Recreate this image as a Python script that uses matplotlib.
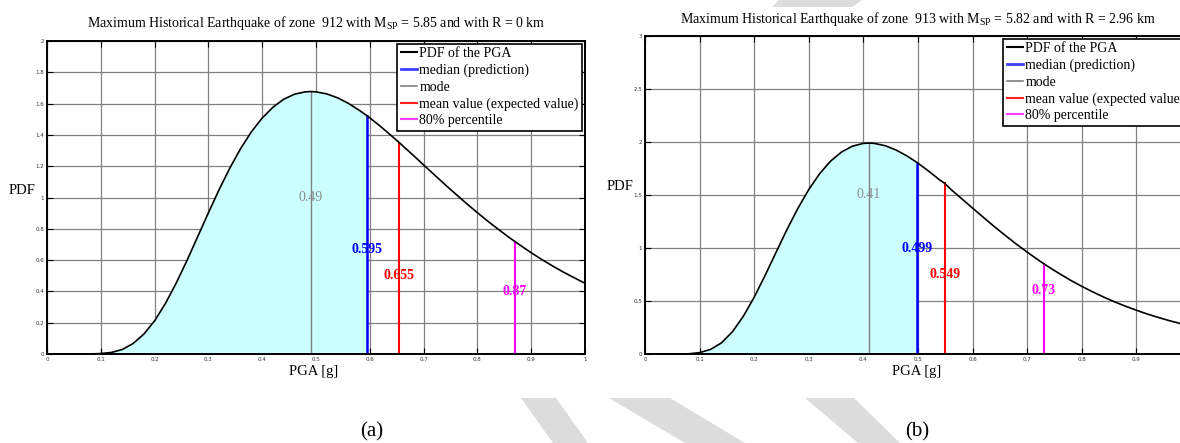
import matplotlib
matplotlib.use("Agg")
import matplotlib.pyplot as plt
from matplotlib.patches import Polygon
from matplotlib.lines import Line2D

plt.rcParams['font.family'] = ['Liberation Serif', 'DejaVu Serif']
plt.rcParams['mathtext.fontset'] = 'custom'
plt.rcParams['mathtext.rm'] = 'Liberation Serif'

# ---------------- data ----------------
pga = [0.02, 0.04, 0.06, 0.08, 0.10, 0.12, 0.14, 0.16, 0.18, 0.20,
       0.22, 0.24, 0.26, 0.28, 0.30, 0.32, 0.34, 0.36, 0.38, 0.40,
       0.42, 0.44, 0.46, 0.48, 0.50, 0.52, 0.54, 0.56, 0.58, 0.60,
       0.62, 0.64, 0.66, 0.68, 0.70, 0.72, 0.74, 0.76, 0.78, 0.80,
       0.82, 0.84, 0.86, 0.88, 0.90, 0.92, 0.94, 0.96, 0.98, 1.00]

pdf_912 = [0.000, 0.000, 0.000, 0.000, 0.003, 0.010, 0.029, 0.067, 0.127, 0.212,
           0.322, 0.452, 0.596, 0.749, 0.902, 1.051, 1.189, 1.313, 1.420, 1.508,
           1.577, 1.628, 1.660, 1.675, 1.675, 1.662, 1.637, 1.602, 1.558, 1.509,
           1.454, 1.395, 1.334, 1.272, 1.208, 1.145, 1.082, 1.021, 0.961, 0.903,
           0.847, 0.794, 0.742, 0.694, 0.647, 0.603, 0.562, 0.523, 0.487, 0.452]

pdf_913 = [0.000, 0.000, 0.000, 0.002, 0.013, 0.043, 0.105, 0.209, 0.355, 0.536,
           0.742, 0.959, 1.174, 1.374, 1.552, 1.702, 1.820, 1.906, 1.961, 1.987,
           1.987, 1.965, 1.924, 1.868, 1.800, 1.723, 1.641, 1.554, 1.465, 1.376,
           1.288, 1.201, 1.118, 1.037, 0.961, 0.888, 0.819, 0.755, 0.694, 0.638,
           0.586, 0.537, 0.492, 0.451, 0.413, 0.377, 0.345, 0.315, 0.288, 0.263]

# statistics: mode, median, mean, 80% percentile
stat_names = ['mode', 'median', 'mean', 'p80']
stats_912_x = [0.49, 0.595, 0.655, 0.87]
stats_912_y = [1.677, 1.522, 1.350, 0.718]
stats_913_x = [0.41, 0.499, 0.549, 0.73]
stats_913_y = [1.990, 1.804, 1.610, 0.853]
stat_labels_912 = ['0.49', '0.595', '0.655', '0.87']
stat_labels_913 = ['0.41', '0.499', '0.549', '0.73']
label_y_912 = [1.0, 0.667, 0.5, 0.4]
label_y_913 = [1.5, 1.0, 0.75, 0.6]

titles = ['Maximum Historical Earthquake of zone  912 with M$_{\\mathregular{SP}}$ = 5.85 and with R = 0 km',
          'Maximum Historical Earthquake of zone  913 with M$_{\\mathregular{SP}}$ = 5.82 and with R = 2.96 km']

xticks = [0, 0.1, 0.2, 0.3, 0.4, 0.5, 0.6, 0.7, 0.8, 0.9, 1]
xtick_labels_912 = ['0', '0.1', '0.2', '0.3', '0.4', '0.5', '0.6', '0.7', '0.8', '0.9', '1']
xtick_labels_913 = ['0', '0.1', '0.2', '0.3', '0.4', '0.5', '0.6', '0.7', '0.8', '0.9', '']
yticks_912 = [0, 0.2, 0.4, 0.6, 0.8, 1, 1.2, 1.4, 1.6, 1.8, 2]
ytick_labels_912 = ['0', '0.2', '0.4', '0.6', '0.8', '1', '1.2', '1.4', '1.6', '1.8', '2']
yticks_913 = [0, 0.5, 1, 1.5, 2, 2.5, 3]
ytick_labels_913 = ['0', '0.5', '1', '1.5', '2', '2.5', '3']

legend_labels = ['PDF of the PGA', 'median (prediction)', 'mode',
                 'mean value (expected value)', '80% percentile']

# ---------------- styles ----------------
W, H = 1180, 443
fig = plt.figure(figsize=(W / 100, H / 100), dpi=100)

stat_colors = {'mode': '#808080', 'median': '#0000ff', 'mean': '#ff0000', 'p80': '#ff00ff'}
stat_lw = {'mode': 1.0, 'median': 1.8, 'mean': 1.5, 'p80': 1.5}
label_colors = {'mode': '#8c8c8c', 'median': '#0000ff', 'mean': '#ff0000', 'p80': '#ff00ff'}
label_weight = {'mode': 'normal', 'median': 'bold', 'mean': 'bold', 'p80': 'bold'}

# watermark stripes (page decoration, in pixels from top-left)
stripes = [
    [(779, 0), (862, 0), (852, 7), (772, 7)],
    [(521, 398), (556, 398), (588, 443), (553, 443)],
    [(609, 398), (670, 398), (745, 443), (685, 443)],
    [(805, 398), (854, 398), (900, 443), (858, 443)],
]
for poly in stripes:
    pts = [(px / W, 1 - py / H) for px, py in poly]
    fig.add_artist(Polygon(pts, closed=True, transform=fig.transFigure,
                           facecolor='#dcdcdc', edgecolor='none', zorder=-5))


def panel(rect, pdf, sx, sy, slabels, ly, xtl, yt, ytl, ymax):
    ax = fig.add_axes(rect)
    ax.set_zorder(0)
    # merge statistic points into curve
    pts = sorted(list(zip(pga, pdf)) + list(zip(sx, sy)))
    x = [p[0] for p in pts]
    y = [p[1] for p in pts]
    med = sx[1]
    fx = [a for a in x if a <= med]
    fy = [b for a, b in zip(x, y) if a <= med]
    ax.fill_between(fx, 0, fy, color='#ccffff', lw=0, zorder=1)
    ax.plot(x, y, color='black', lw=1.2, zorder=3)
    for name, xv, yv, lab, lyv in zip(stat_names, sx, sy, slabels, ly):
        ax.plot([xv, xv], [0, yv], color=stat_colors[name], lw=stat_lw[name], zorder=2.5)
        ax.text(xv, lyv, lab, color=label_colors[name], ha='center', va='center',
                fontsize=10, fontweight=label_weight[name], zorder=4)
    ax.set_xlim(0, 1)
    ax.set_ylim(0, ymax)
    ax.set_xticks(xticks)
    ax.set_xticklabels(xtl)
    ax.set_yticks(yt)
    ax.set_yticklabels(ytl)
    ax.tick_params(direction='in', length=4, width=0.8, top=True, right=True,
                   labelsize=4, pad=2, labelcolor='#333333')
    for lab in ax.get_xticklabels() + ax.get_yticklabels():
        lab.set_family('DejaVu Sans')
    ax.grid(True, color='#808080', lw=0.9)
    ax.set_axisbelow(True)
    for sp in ax.spines.values():
        sp.set_linewidth(1.4)
    handles = [Line2D([], [], color='black', lw=1.5),
               Line2D([], [], color='#4040ff', lw=2),
               Line2D([], [], color='#808080', lw=1.2),
               Line2D([], [], color='#ff2020', lw=1.5),
               Line2D([], [], color='#ff40ff', lw=1.5)]
    leg = ax.legend(handles, legend_labels, loc='upper right', fontsize=10,
                    fancybox=False, framealpha=1, edgecolor='black',
                    borderpad=0.25, handlelength=1.2, handletextpad=0.15,
                    labelspacing=0.25, borderaxespad=0.2)
    leg.get_frame().set_linewidth(1.2)
    return ax


axL = panel([47 / W, 1 - 354 / H, 538 / W, 313 / H], pdf_912, stats_912_x, stats_912_y,
            stat_labels_912, label_y_912, xtick_labels_912, yticks_912, ytick_labels_912, 2)
axR = panel([645 / W, 1 - 354 / H, 546 / W, 318 / H], pdf_913, stats_913_x, stats_913_y,
            stat_labels_913, label_y_913, xtick_labels_913, yticks_913, ytick_labels_913, 3)

# titles and labels
fig.text(316 / W, 1 - 23 / H, titles[0], ha='center', va='center', fontsize=10)
fig.text(918 / W, 1 - 19 / H, titles[1], ha='center', va='center', fontsize=10)
fig.text(22 / W, 1 - 190 / H, 'PDF', ha='center', va='center', fontsize=10.5)
fig.text(620 / W, 1 - 187 / H, 'PDF', ha='center', va='center', fontsize=10.5)
fig.text(314 / W, 1 - 372 / H, 'PGA [g]', ha='center', va='center', fontsize=10.5)
fig.text(917 / W, 1 - 371 / H, 'PGA [g]', ha='center', va='center', fontsize=10.5)
fig.text(372 / W, 1 - 432 / H, '(a)', ha='center', va='center', fontsize=15)
fig.text(917 / W, 1 - 432 / H, '(b)', ha='center', va='center', fontsize=15)

fig.savefig('out.png', dpi=100)
